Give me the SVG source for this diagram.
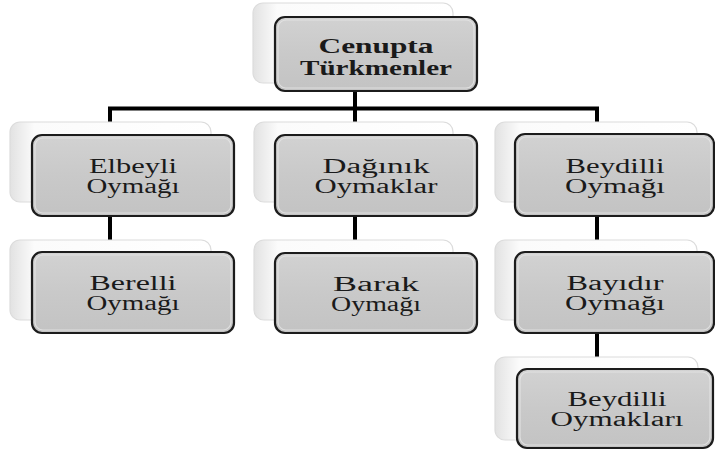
<svg xmlns="http://www.w3.org/2000/svg" width="715" height="453" viewBox="0 0 715 453">
<defs>
<linearGradient id="backG" x1="0" y1="0" x2="1" y2="0">
<stop offset="0" stop-color="#e2e2e2"/>
<stop offset="0.12" stop-color="#fbfbfb"/>
<stop offset="1" stop-color="#ffffff"/>
</linearGradient>
<linearGradient id="frontG" x1="0" y1="0" x2="0" y2="1">
<stop offset="0" stop-color="#d2d2d2"/>
<stop offset="0.5" stop-color="#c9c9c9"/>
<stop offset="1" stop-color="#c3c3c3"/>
</linearGradient>
</defs>
<style>
.back{fill:url(#backG);stroke:#dcdcdc;stroke-width:1.2}
.front{fill:url(#frontG);stroke:#1c1c1c;stroke-width:2.2}
.inner{fill:none;stroke:#e6e6e6;stroke-width:1.2;opacity:0.8}
.t{font-family:"Liberation Serif","Times New Roman",serif;font-size:20px;fill:#1a1a1a;text-anchor:middle}
.tb{font-weight:bold}
.con{stroke:#000;stroke-width:4;fill:none}
</style>
<rect width="715" height="453" fill="#ffffff"/>
<g id="connectors">
<path class="con" d="M355,60 V108.5"/>
<path class="con" d="M108,108.5 H599"/>
<path class="con" d="M110,108.5 V245"/>
<path class="con" d="M355,108.5 V245"/>
<path class="con" d="M597,108.5 V362"/>
</g>
<g id="n-cenupta">
<rect class="back" x="253" y="3" width="200" height="80" rx="10"/>
<rect class="front" x="275" y="17" width="202" height="74" rx="10"/>
<rect class="inner" x="278" y="20" width="196" height="68" rx="8"/>
<text class="t tb" x="376" y="53" textLength="115" lengthAdjust="spacingAndGlyphs">Cenupta</text>
<text class="t tb" x="376" y="75" textLength="152" lengthAdjust="spacingAndGlyphs">Türkmenler</text>
</g>
<g id="n-elbeyli">
<rect class="back" x="10" y="122" width="201" height="80" rx="10"/>
<rect class="front" x="32" y="135" width="202" height="81" rx="10"/>
<rect class="inner" x="35" y="138" width="196" height="75" rx="8"/>
<text class="t" x="133" y="173" textLength="88" lengthAdjust="spacingAndGlyphs">Elbeyli</text>
<text class="t" x="133" y="193" textLength="93" lengthAdjust="spacingAndGlyphs">Oymağı</text>
</g>
<g id="n-daginik">
<rect class="back" x="254" y="122" width="199" height="80" rx="10"/>
<rect class="front" x="275" y="135" width="202" height="81" rx="10"/>
<rect class="inner" x="278" y="138" width="196" height="75" rx="8"/>
<text class="t" x="376" y="173" textLength="107" lengthAdjust="spacingAndGlyphs">Dağınık</text>
<text class="t" x="376" y="193" textLength="123" lengthAdjust="spacingAndGlyphs">Oymaklar</text>
</g>
<g id="n-beydilli">
<rect class="back" x="495" y="122" width="202" height="80" rx="10"/>
<rect class="front" x="515" y="134" width="199" height="82" rx="10"/>
<rect class="inner" x="518" y="137" width="193" height="76" rx="8"/>
<text class="t" x="615" y="173" textLength="99" lengthAdjust="spacingAndGlyphs">Beydilli</text>
<text class="t" x="615" y="193" textLength="100" lengthAdjust="spacingAndGlyphs">Oymağı</text>
</g>
<g id="n-berelli">
<rect class="back" x="10" y="240" width="201" height="80" rx="10"/>
<rect class="front" x="32" y="252" width="202" height="81" rx="10"/>
<rect class="inner" x="35" y="255" width="196" height="75" rx="8"/>
<text class="t" x="133" y="290" textLength="87" lengthAdjust="spacingAndGlyphs">Berelli</text>
<text class="t" x="133" y="310" textLength="93" lengthAdjust="spacingAndGlyphs">Oymağı</text>
</g>
<g id="n-barak">
<rect class="back" x="254" y="240" width="199" height="80" rx="10"/>
<rect class="front" x="275" y="253" width="202" height="80" rx="10"/>
<rect class="inner" x="278" y="256" width="196" height="74" rx="8"/>
<text class="t" x="376" y="291" textLength="86" lengthAdjust="spacingAndGlyphs">Barak</text>
<text class="t" x="376" y="311" textLength="90" lengthAdjust="spacingAndGlyphs">Oymağı</text>
</g>
<g id="n-bayidir">
<rect class="back" x="495" y="240" width="202" height="80" rx="10"/>
<rect class="front" x="515" y="252" width="199" height="81" rx="10"/>
<rect class="inner" x="518" y="255" width="193" height="75" rx="8"/>
<text class="t" x="615" y="290" textLength="97" lengthAdjust="spacingAndGlyphs">Bayıdır</text>
<text class="t" x="615" y="310" textLength="100" lengthAdjust="spacingAndGlyphs">Oymağı</text>
</g>
<g id="n-beydilli-oymaklari">
<rect class="back" x="495" y="357" width="203" height="83" rx="10"/>
<rect class="front" x="517" y="369" width="196" height="79" rx="10"/>
<rect class="inner" x="520" y="372" width="190" height="73" rx="8"/>
<text class="t" x="617" y="406" textLength="99" lengthAdjust="spacingAndGlyphs">Beydilli</text>
<text class="t" x="617" y="426" textLength="133" lengthAdjust="spacingAndGlyphs">Oymakları</text>
</g>
</svg>
